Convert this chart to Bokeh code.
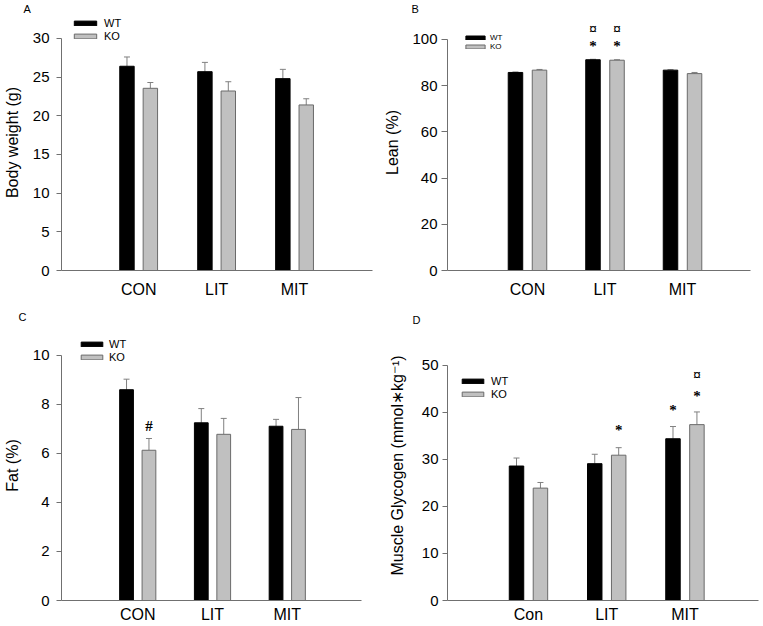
import numpy as np
from bokeh.plotting import figure
from bokeh.models import (Range1d, FixedTicker, SingleIntervalTicker, Legend, LegendItem,
                          LabelSet, ColumnDataSource)
from bokeh.layouts import column, row
from bokeh.embed import file_html
from bokeh.resources import INLINE

# ---------------- data ----------------
groups = ["WT", "KO"]
cats_abc = ["CON", "LIT", "MIT"]
cats_d = ["Con", "LIT", "MIT"]

# A: body weight (g)
bw_wt = [26.4, 25.7, 24.8]
bw_wt_err = [1.2, 1.2, 1.2]
bw_ko = [23.55, 23.2, 21.4]
bw_ko_err = [0.75, 1.2, 0.8]

# B: lean (%)
lean_wt = [85.7, 91.2, 86.7]
lean_wt_err = [0.2, 0.2, 0.2]
lean_ko = [86.7, 91.0, 85.2]
lean_ko_err = [0.3, 0.2, 0.5]
lean_sig_cat = ["LIT", "LIT", "LIT", "LIT"]
lean_sig_grp = ["WT", "KO", "WT", "KO"]
lean_sig_txt = ["*", "*", "\u00a4", "\u00a4"]
lean_sig_y = [97.2, 97.2, 104.3, 104.3]

# C: fat (%)
fat_wt = [8.6, 7.25, 7.11]
fat_wt_err = [0.43, 0.58, 0.28]
fat_ko = [6.13, 6.78, 6.98]
fat_ko_err = [0.48, 0.65, 1.3]
fat_sig_cat = ["CON"]
fat_sig_grp = ["KO"]
fat_sig_txt = ["#"]
fat_sig_y = [7.11]

# D: muscle glycogen
gly_wt = [28.6, 29.1, 34.4]
gly_wt_err = [1.7, 2.0, 2.6]
gly_ko = [23.9, 30.9, 37.4]
gly_ko_err = [1.2, 1.6, 2.7]
gly_sig_cat = ["LIT", "MIT", "MIT", "MIT"]
gly_sig_grp = ["KO", "WT", "KO", "KO"]
gly_sig_txt = ["*", "*", "*", "\u00a4"]
gly_sig_y = [36.3, 40.6, 43.4, 47.9]

FONT = "Liberation Sans"
AX = "#707070"
ERR = "#808080"
KO_FILL = "#c0c0c0"
KO_LINE = "#6a6a6a"


def panel(letter, cats, wt, wt_err, ko, ko_err, ylabel, ymax, yint, ytop,
          width, height, borders, xr, off, bar_w,
          y_tick_out, y_tick_standoff, y_lab_standoff, x_lab_standoff,
          leg_loc, leg_font, leg_gw, leg_gh, leg_lh, leg_standoff,
          letter_off, letter_standoff, sig=None):
    left, right, top, bottom = borders
    p = figure(width=width, height=height, output_backend="svg", toolbar_location=None,
               x_range=Range1d(*xr), y_range=Range1d(0, ytop), title=letter,
               min_border_left=left, min_border_right=right,
               min_border_top=top, min_border_bottom=bottom)
    p.outline_line_color = None
    p.xgrid.visible = False
    p.ygrid.visible = False
    p.background_fill_color = "white"
    p.border_fill_color = "white"

    p.title.align = "left"
    p.title.offset = letter_off
    p.title.text_font = FONT
    p.title.text_font_size = "11px"
    p.title.text_font_style = "normal"
    p.title.text_color = "black"
    try:
        p.title.standoff = letter_standoff
    except AttributeError:
        pass

    idx = np.arange(len(cats))
    gx = {"WT": -off, "KO": off}
    s_wt = ColumnDataSource(dict(x=idx + gx["WT"], top=wt, up=np.array(wt) + np.array(wt_err)))
    s_ko = ColumnDataSource(dict(x=idx + gx["KO"], top=ko, up=np.array(ko) + np.array(ko_err)))

    for s in (s_wt, s_ko):
        p.segment(x0="x", y0="top", x1="x", y1="up", line_color=ERR, line_width=1, source=s)
        p.scatter(x="x", y="up", marker="dash", size=6, line_color=ERR, line_width=1, source=s)
    r_wt = p.vbar(x="x", top="top", bottom=0, width=bar_w, fill_color="black",
                  line_color="black", source=s_wt)
    r_ko = p.vbar(x="x", top="top", bottom=0, width=bar_w, fill_color=KO_FILL,
                  line_color=KO_LINE, source=s_ko)

    # y axis
    ya = p.yaxis[0]
    ya.bounds = (0, ymax)
    ya.ticker = SingleIntervalTicker(interval=yint, num_minor_ticks=0)
    ya.axis_label = ylabel
    ya.axis_label_text_font = FONT
    ya.axis_label_text_font_size = "16px"
    ya.axis_label_text_font_style = "normal"
    ya.axis_label_text_color = "black"
    ya.axis_label_standoff = y_lab_standoff
    ya.major_label_text_font = FONT
    ya.major_label_text_font_size = "15px"
    ya.major_label_text_color = "black"
    ya.major_label_standoff = y_tick_standoff
    ya.major_tick_out = y_tick_out
    ya.major_tick_in = 0
    ya.minor_tick_out = 0
    ya.minor_tick_in = 0
    ya.axis_line_color = AX
    ya.major_tick_line_color = AX

    # x axis (categories)
    xa = p.xaxis[0]
    xa.ticker = FixedTicker(ticks=list(idx))
    xa.major_label_overrides = {int(i): c for i, c in zip(idx, cats)}
    xa.major_label_text_font = FONT
    xa.major_label_text_font_size = "16px"
    xa.major_label_text_color = "black"
    xa.major_label_standoff = x_lab_standoff
    xa.major_tick_line_color = None
    xa.major_tick_out = 0
    xa.major_tick_in = 0
    xa.minor_tick_line_color = None
    xa.minor_tick_out = 0
    xa.minor_tick_in = 0
    xa.axis_line_color = AX

    legend = Legend(items=[LegendItem(label=groups[0], renderers=[r_wt]),
                           LegendItem(label=groups[1], renderers=[r_ko])],
                    location=leg_loc, orientation="vertical",
                    border_line_color=None, background_fill_alpha=0,
                    padding=0, margin=0, spacing=0,
                    glyph_width=leg_gw, glyph_height=leg_gh, label_height=leg_lh,
                    label_standoff=leg_standoff,
                    label_text_font=FONT, label_text_font_size=leg_font,
                    label_text_color="black")
    p.add_layout(legend)

    if sig is not None:
        scat, sgrp, stxt, sy = sig
        pos = {c: i for i, c in enumerate(cats)}
        sx = [pos[c] + gx[g] for c, g in zip(scat, sgrp)]
        ss = ColumnDataSource(dict(x=sx, y=sy, t=stxt))
        p.add_layout(LabelSet(x="x", y="y", text="t", source=ss, text_font=FONT,
                              text_font_size="15px", text_font_style="bold",
                              text_align="center", text_baseline="middle",
                              text_color="black"))
    return p


pA = panel("A", cats_abc, bw_wt, bw_wt_err, bw_ko, bw_ko_err, "Body weight (g)", 30, 5, 33.09,
           380, 300, (56, 8, 14, 29), (-0.99, 3.0), 0.15, 0.185,
           5, 7, 9, 10,
           (10, 228), "11px", 28, 6, 13, 5, -38, 0)
pB = panel("B", cats_abc, lean_wt, lean_wt_err, lean_ko, lean_ko_err, "Lean (%)", 100, 20, 110.78,
           382, 300, (67, 12, 14, 29), (-1.032, 2.877), 0.155, 0.187,
           6, 4, 8, 10,
           (16, 219), "8px", 24, 5, 9, 3, -36, 0,
           sig=(lean_sig_cat, lean_sig_grp, lean_sig_txt, lean_sig_y))
pC = panel("C", cats_abc, fat_wt, fat_wt_err, fat_ko, fat_ko_err, "Fat (%)", 10, 2, 11.016,
           380, 325, (56, 19, 30, 24), (-1.02, 2.993), 0.15, 0.184,
           5, 7, 9, 5,
           (17, 237), "11px", 27, 6, 13, 4, -43, 16,
           sig=(fat_sig_cat, fat_sig_grp, fat_sig_txt, fat_sig_y))
pD = panel("D", cats_d, gly_wt, gly_wt_err, gly_ko, gly_ko_err,
           "Muscle Glycogen (mmol\u2217kg\u207b\u00b9)", 50, 10, 57.42,
           382, 325, (67, 4, 30, 24), (-1.035, 2.94), 0.153, 0.185,
           5, 4, 13, 5,
           (12, 200), "11px", 27, 6, 13, 5, -35, 10,
           sig=(gly_sig_cat, gly_sig_grp, gly_sig_txt, gly_sig_y))

layout = column(row(pA, pB), row(pC, pD))
open("out.html", "w").write(file_html(layout, INLINE))
